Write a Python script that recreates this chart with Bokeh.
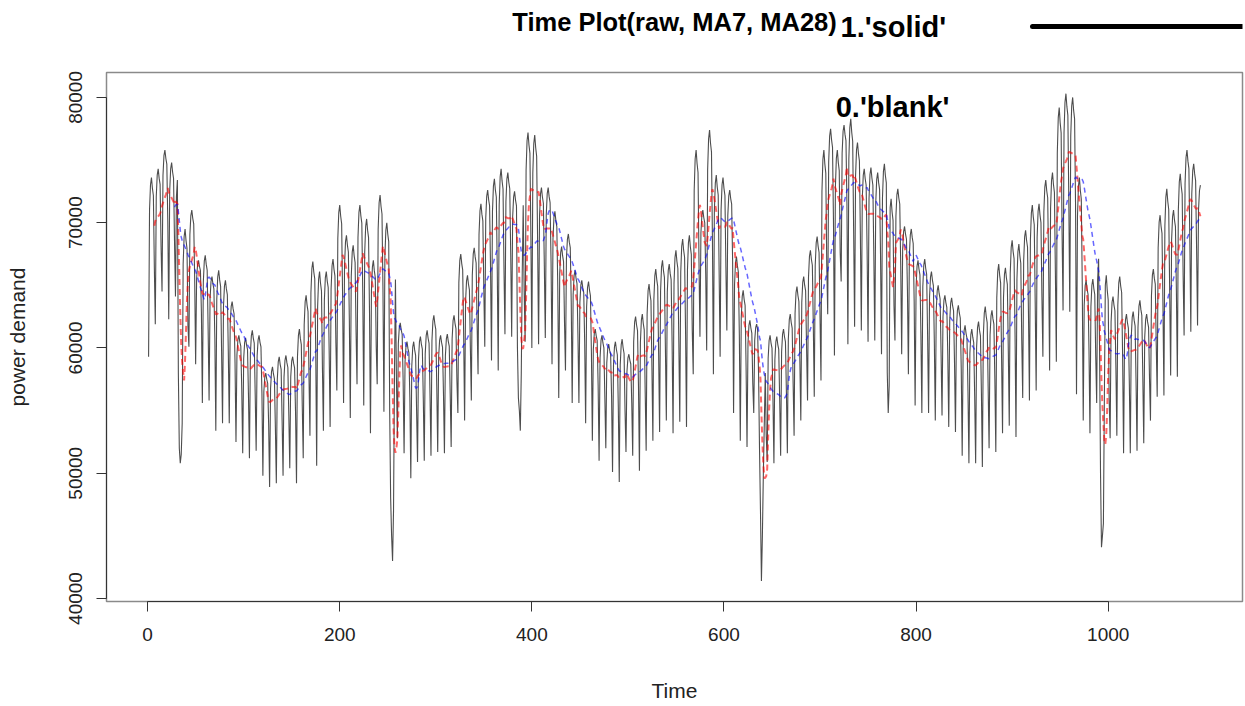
import numpy as np
import pandas as pd
from bokeh.plotting import figure
from bokeh.layouts import column
from bokeh.models import Range1d, FixedTicker, BasicTickFormatter, Label
from bokeh.embed import file_html
from bokeh.resources import INLINE

# ---------------- data ----------------
n_days = 1096
# weekly weekday peak level (one value per week, weeks start on the low day)
weekday_high = [
    73600, 74300, 75800, 74800, 73800, 69500, 71000, 67000, 67400, 65700,
    66200, 65400, 63700, 61000, 60800, 61400, 61000, 58000, 58500, 59300,
    59400, 59300, 61500, 64200, 66900, 66100, 66100, 67100, 71400, 69000,
    68200, 71400, 70300, 67000, 72200, 70000, 67400, 62000, 60500, 60500,
    60900, 61400, 62600, 61000, 61100, 62600, 67500, 65800, 68000, 71500,
    72600, 73500, 74300, 74000, 72500, 73100, 77200, 77000, 72800, 72800,
    70900, 68100, 69100, 66200, 65400, 65300, 61500, 61000, 60300, 60500,
    60700, 59500, 62500, 62700, 65100, 66300, 67000, 66700, 67800, 68700,
    69000, 75800, 71000, 77400, 73800, 73600, 72600, 67300, 64600, 62200,
    61900, 59000, 61000, 60900, 61500, 62700, 64900, 65700, 67800, 68900,
    75800, 77500, 75800, 77800, 78300, 76400, 74300, 74400, 74000, 74700,
    71900, 72700, 69700, 69500, 67000, 67100, 66100, 65000, 64200, 64000,
    63400, 61800, 61500, 62100, 63300, 63000, 66700, 66400, 68600, 68300,
    69400, 71400, 71500, 73400, 74000, 79200, 80300, 80000, 73600, 65400,
    65500, 67600, 65800, 64100, 65700, 62700, 62900, 63800, 62700, 66300,
    70600, 72700, 71000, 73900, 75800, 74700, 73000,
]
# weekly low day level (one value per week)
weekly_low = [
    59300, 61900, 64500, 62300, 64100, 54000, 60100, 58700, 55600, 55800,
    53400, 54000, 54000, 52500, 51600, 51200, 51800, 49800, 48900, 49200,
    49800, 50400, 49200, 51200, 53000, 50600, 53400, 53700, 56600, 55600,
    54400, 57100, 55400, 53200, 57100, 54900, 48000, 52800, 51600, 49600,
    50900, 51000, 51400, 51700, 51600, 52100, 54800, 54200, 55800, 57900,
    60100, 59000, 58200, 61100, 60900, 56000, 60500, 60000, 60300, 60800,
    58700, 56000, 58200, 55600, 55600, 54000, 52600, 51000, 52000, 50100,
    49300, 51700, 51400, 50200, 51800, 52600, 53300, 54200, 53200, 54100,
    53700, 57900, 60900, 59800, 57900, 59300, 61400, 54800, 52600, 52100,
    54800, 47000, 50900, 50800, 51400, 51600, 53000, 54200, 55800, 56100,
    57400, 62700, 59400, 65300, 60300, 61700, 61400, 60500, 60600, 59500,
    54800, 60600, 59500, 57900, 55400, 54800, 54800, 54200, 54600, 53700,
    53300, 51400, 50800, 50800, 50500, 52000, 51700, 53200, 53800, 52900,
    56000, 55800, 56600, 59300, 58200, 58900, 63000, 62900, 56300, 54200,
    53200, 55600, 46000, 52800, 53000, 51600, 51600, 51800, 52400, 54200,
    56100, 56200, 57800, 57700, 61000, 61300, 61800,
]
# share of the weekly swing reached on each day of the week (low day first)
weekly_shape = [0.0, 0.82, 0.96, 1.0, 0.94, 0.90, 0.5]
# holiday dips (day index, value)
holiday_day = [32, 33, 34, 35, 36,
               252, 253, 254, 255, 256, 257,
               385, 386, 387, 388, 389, 390,
               636, 637, 638, 639, 640, 641, 642, 643,
               770, 771, 772,
               991, 992, 993, 994, 995, 996]
holiday_value = [58000, 52000, 50800, 51500, 54000,
                 55000, 48000, 45000, 43000, 47000, 58000,
                 60000, 56000, 55000, 53400, 58000, 66000,
                 58000, 52000, 47000, 41400, 45000, 50000, 54000, 58000,
                 58000, 54800, 57000,
                 60000, 50000, 44100, 45000, 46000, 56000]
x_ticks = [0, 200, 400, 600, 800, 1000]
y_ticks = [40000, 50000, 60000, 70000, 80000]

title_text = "Time Plot(raw, MA7, MA28)"
solid_text = "1.'solid'"
blank_text = "0.'blank'"

# ---------------- series ----------------
t = np.arange(1, n_days + 1)
wk = (t - 1) // 7
dw = (t - 1) % 7
hi = np.array(weekday_high, dtype=float)[wk]
lo = np.array(weekly_low, dtype=float)[wk]
raw = pd.Series(lo + np.array(weekly_shape)[dw] * (hi - lo), index=t)
for d, v in zip(holiday_day, holiday_value):
    raw[d] = v
ma7 = raw.rolling(7).mean()
ma28 = raw.rolling(28).mean()

FONT = "Liberation Sans"
W, H = 1245, 706
LEFT, RIGHT = 106, 3
top_h = 64

# ---------------- top strip (title) ----------------
# screen-like coordinates: x = page pixel, y = page pixel (downwards)
pt = figure(width=W, height=top_h, x_range=Range1d(LEFT, W - RIGHT), y_range=Range1d(top_h, 0),
            x_axis_type=None, y_axis_type=None, toolbar_location=None,
            output_backend="svg", min_border_left=LEFT, min_border_right=RIGHT,
            min_border_top=0, min_border_bottom=0)
pt.outline_line_color = None
pt.grid.visible = False
pt.add_layout(Label(x=674, y=21, text=title_text, text_font=FONT, text_font_style="bold",
                    text_font_size="25.5px", text_align="center", text_baseline="alphabetic",
                    text_color="black"))
pt.add_layout(Label(x=840, y=26, text=solid_text, text_font=FONT, text_font_style="bold",
                    text_font_size="29px", text_align="left", text_baseline="alphabetic",
                    text_color="black"))
pt.line(x=[1032, W], y=[26, 26], line_width=5, line_color="black", line_cap="round")

# ---------------- main plot ----------------
p = figure(width=W, height=H - top_h,
           x_range=Range1d(-42.8, 1139.8), y_range=Range1d(39760, 81990),
           toolbar_location=None, output_backend="svg",
           min_border_left=LEFT, min_border_right=RIGHT, min_border_top=8, min_border_bottom=105)
p.grid.visible = False
p.background_fill_color = "white"
p.outline_line_color = "#8a8a8a"
p.outline_line_width = 1.5

p.line(t, raw.values, line_color="#111111", line_width=1.1, line_alpha=0.75)
p.line(t, ma7.values, line_color="red", line_width=2, line_alpha=0.6, line_dash="6 4")
p.line(t, ma28.values, line_color="blue", line_width=1.5, line_alpha=0.6, line_dash="5 4")

p.xaxis.ticker = FixedTicker(ticks=x_ticks)
p.yaxis.ticker = FixedTicker(ticks=y_ticks)
p.xaxis.bounds = (x_ticks[0], x_ticks[-1])
p.yaxis.bounds = (y_ticks[0], y_ticks[-1])
p.yaxis.formatter = BasicTickFormatter(use_scientific=False)
p.yaxis.major_label_orientation = "vertical"
p.axis.minor_tick_line_color = None
p.axis.major_tick_out = 10
p.axis.major_tick_in = 0
p.axis.axis_line_color = "#333333"
p.axis.major_tick_line_color = "#333333"
p.axis.major_label_text_font = FONT
p.axis.major_label_text_font_size = "19px"
p.axis.major_label_text_color = "#222222"
p.xaxis.major_label_standoff = 16
p.yaxis.major_label_standoff = 14
p.xaxis.axis_label = "Time"
p.yaxis.axis_label = "power demand"
p.axis.axis_label_text_font = FONT
p.axis.axis_label_text_font_size = "21px"
p.axis.axis_label_text_font_style = "normal"
p.axis.axis_label_text_color = "#222222"
p.xaxis.axis_label_standoff = 35
p.yaxis.axis_label_standoff = 38

p.add_layout(Label(x=775.5, y=79200, text=blank_text, text_font=FONT, text_font_style="bold",
                   text_font_size="29px", text_align="center", text_baseline="alphabetic",
                   text_color="black"))

layout = column(pt, p)
open("out.html", "w").write(file_html(layout, INLINE))
